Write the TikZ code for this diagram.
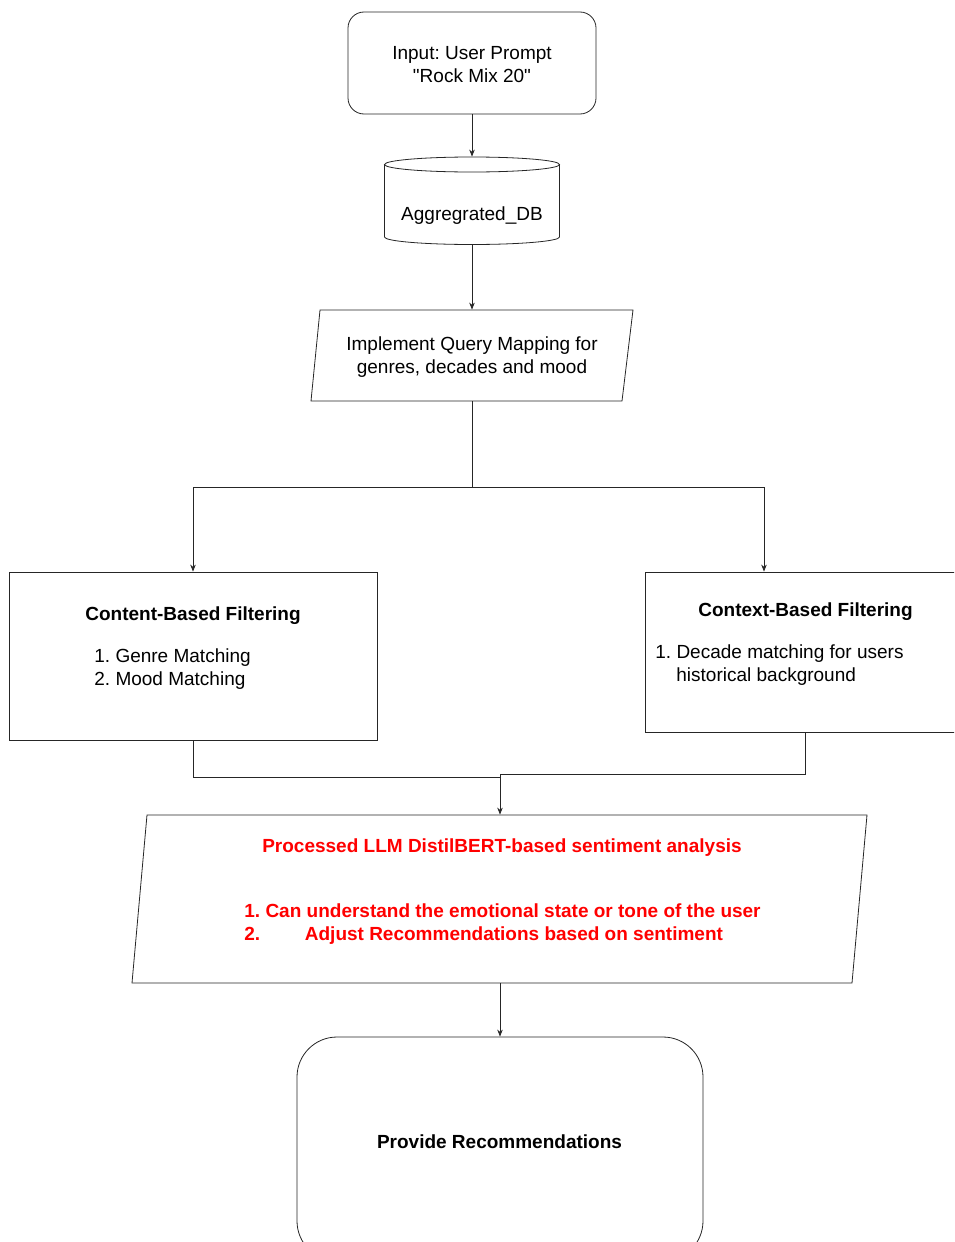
\documentclass[tikz,border=0pt]{standalone}
\usepackage{fontspec}
\setmainfont{Liberation Sans}
\usetikzlibrary{arrows.meta,calc}
\frenchspacing
\begin{document}
\frenchspacing
\begin{tikzpicture}[x=1pt,y=-1pt,
  line width=0.8pt,
  edge/.style={draw=black!85},
  arr/.style={edge,-{Stealth[length=7pt,width=5.5pt]}},
  shapebox/.style={draw=black!85,fill=white,inner sep=0pt},
  txt/.style={font=\fontsize{19}{23}\selectfont,inner sep=0pt},
  btxt/.style={font=\fontsize{19}{23}\selectfont\bfseries,inner sep=0pt},
  rtxt/.style={font=\fontsize{19}{23}\selectfont\bfseries,text=red,inner sep=0pt}]
\useasboundingbox (0,0) rectangle (954,1242);
\clip (0,0) rectangle (954,1242);

% Input
\node[shapebox,rounded corners=16pt,minimum width=248pt,minimum height=102pt] (input) at (472,63) {};
\node[txt,anchor=base] (inputT1) at (472,59) {Input: User Prompt};
\node[txt,anchor=base] (inputT2) at (472,82) {\textquotedbl Rock Mix 20\textquotedbl};

% Database cylinder
\node[inner sep=0pt,minimum width=175pt,minimum height=88pt] (db) at (472,201) {};
\draw[edge,fill=white] (384.5,164.5) -- (384.5,237)
  arc[start angle=180,end angle=360,x radius=87.5pt,y radius=7.5pt] -- (559.5,164.5);
\draw[edge,fill=white] (472,164.5) ellipse[x radius=87.5pt,y radius=7.5pt];
\node[txt,anchor=base] (dbT) at (472,220) {Aggregrated\_DB};

% Query mapping parallelogram
\node[inner sep=0pt,minimum width=300pt,minimum height=91pt] (qm) at (472,355.5) {};
\draw[edge] (320,310) -- (633,310) -- (622,401) -- (311,401) -- cycle;
\node[txt,anchor=base] (qmT1) at (472,350) {Implement Query Mapping for};
\node[txt,anchor=base] (qmT2) at (472,373) {genres, decades and mood};

% Content-based filtering
\node[shapebox,minimum width=368pt,minimum height=168pt] (cbf) at (193,656) {};
\node[btxt,anchor=base] (cbfT) at (193,620) {Content-Based Filtering};
\node[txt,anchor=base west] (cbfL1) at (94,662) {1. Genre Matching};
\node[txt,anchor=base west] (cbfL2) at (94,685) {2. Mood Matching};

% Context-based filtering
\node[shapebox,minimum width=320pt,minimum height=160pt] (ctx) at (805,652) {};
\node[btxt,anchor=base] (ctxT) at (805.5,616) {Context-Based Filtering};
\node[txt,anchor=base west] (ctxL1) at (655,658) {1. Decade matching for users};
\node[txt,anchor=base west] (ctxL2) at (676,681) {historical background};

% Sentiment analysis parallelogram (red text)
\node[inner sep=0pt,minimum width=700pt,minimum height=168pt] (rp) at (500,899) {};
\draw[edge] (147,815) -- (867,815) -- (852,983) -- (132,983) -- cycle;
\node[rtxt,anchor=base] (rpT) at (502,852) {Processed LLM DistilBERT-based sentiment analysis};
\node[rtxt,anchor=base west] (rpL1) at (244,917) {1. Can understand the emotional state or tone of the user};
\node[rtxt,anchor=base west] (rpL2n) at (244,940) {2.};
\node[rtxt,anchor=base west] (rpL2) at (304.5,940) {Adjust Recommendations based on sentiment};

% Recommendations
\node[shapebox,rounded corners=40pt,minimum width=406pt,minimum height=224pt] (rec) at (500,1149) {};
\node[btxt,anchor=base] (recT) at (499.5,1148) {Provide Recommendations};

% Connectors
\coordinate (split) at (472,487);
\coordinate (joinL) at (500,777);
\coordinate (joinR) at (500,774);
\draw[arr] (input.south) -- (db.north);
\draw[arr] (db.south) -- (qm.north);
\draw[edge] (qm.south) -- (split);
\draw[arr] (split) -| (cbf.north);
\draw[arr] (split) -| ([xshift=-41pt]ctx.north);
\draw[edge] (cbf.south) |- (joinL);
\draw[arr] (ctx.south) |- (joinR) -- (rp.north);
\draw[arr] (rp.south) -- (rec.north);
\end{tikzpicture}
\end{document}
